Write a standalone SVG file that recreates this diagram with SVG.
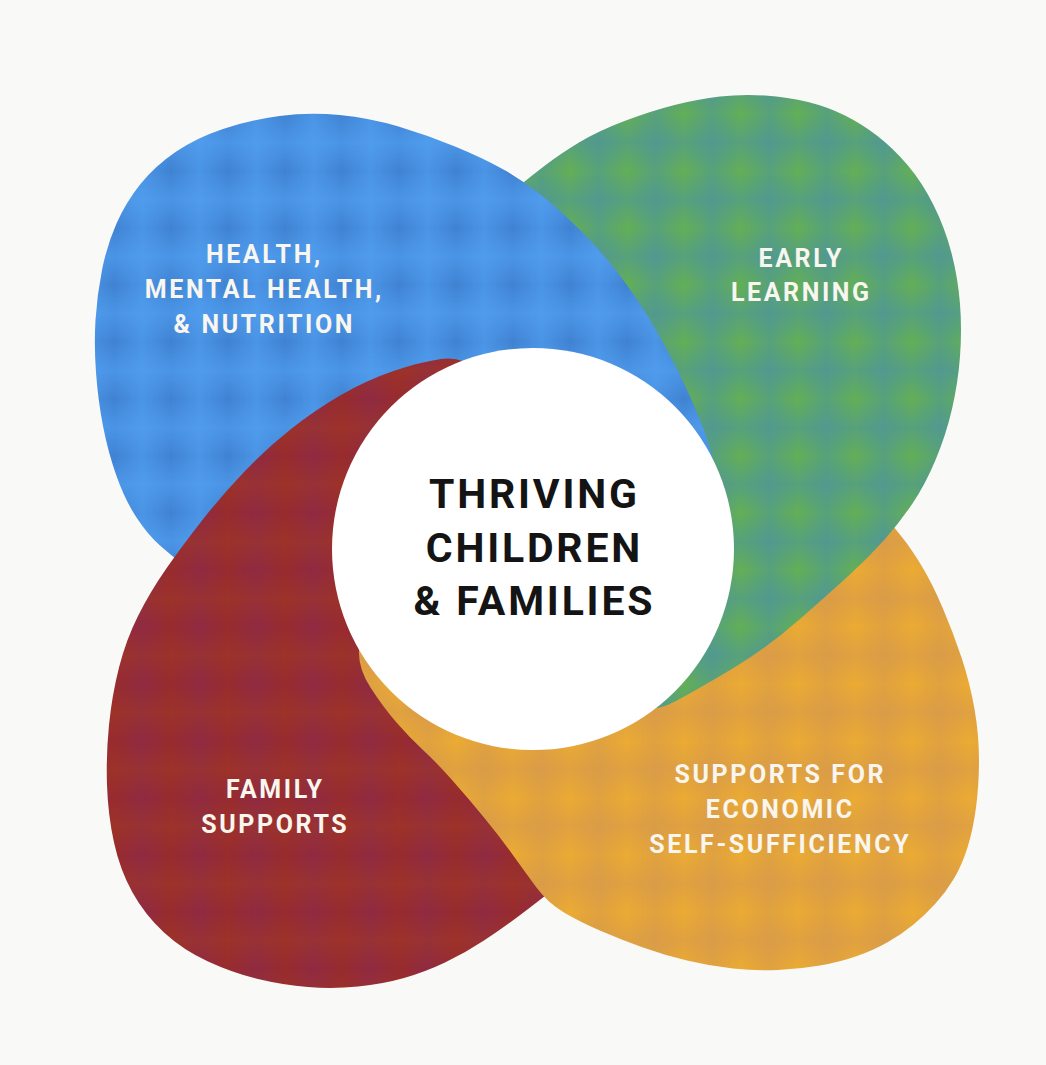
<svg xmlns="http://www.w3.org/2000/svg" xmlns:xlink="http://www.w3.org/1999/xlink" width="1046" height="1065" viewBox="0 0 1046 1065">
<style>
.lbl{font-family:Roboto,"Liberation Sans",sans-serif;font-weight:700;font-size:25px;fill:#f8f6ee;text-anchor:middle;letter-spacing:2.6px}
.ctr{font-family:Roboto,"Liberation Sans",sans-serif;font-weight:700;font-size:41px;fill:#141414;text-anchor:middle;letter-spacing:2.8px}
</style>
<defs>
<linearGradient id="gv" x1="0" y1="0" x2="1" y2="0"><stop offset="0" stop-color="#fff" stop-opacity="0"/><stop offset="0.5" stop-color="#fff" stop-opacity="1"/><stop offset="1" stop-color="#fff" stop-opacity="0"/></linearGradient>
<linearGradient id="gh" x1="0" y1="0" x2="0" y2="1"><stop offset="0" stop-color="#fff" stop-opacity="0"/><stop offset="0.5" stop-color="#fff" stop-opacity="1"/><stop offset="1" stop-color="#fff" stop-opacity="0"/></linearGradient>
<mask id="mv" maskContentUnits="objectBoundingBox"><rect width="1" height="1" fill="url(#gv)"/></mask>
<mask id="mh" maskContentUnits="objectBoundingBox"><rect width="1" height="1" fill="url(#gh)"/></mask>
<pattern id="pBlue" width="57" height="57" patternUnits="userSpaceOnUse">
<rect width="57" height="57" fill="#3f82d2"/>
<rect width="57" height="57" fill="#52a0f2" opacity="0.6" mask="url(#mv)"/>
<rect width="57" height="57" fill="#52a0f2" opacity="0.6" mask="url(#mh)"/>
</pattern>
<pattern id="pGreen" width="57" height="57" patternUnits="userSpaceOnUse">
<rect width="57" height="57" fill="#62af55"/>
<rect width="57" height="57" fill="#4a8fa8" opacity="0.45" mask="url(#mv)"/>
<rect width="57" height="57" fill="#4a8fa8" opacity="0.45" mask="url(#mh)"/>
</pattern>
<pattern id="pOrange" width="57" height="57" patternUnits="userSpaceOnUse">
<rect width="57" height="57" fill="#ebab32"/>
<rect width="57" height="57" fill="#d4974e" opacity="0.5" mask="url(#mv)"/>
<rect width="57" height="57" fill="#d4974e" opacity="0.5" mask="url(#mh)"/>
</pattern>
<pattern id="pRed" width="57" height="57" patternUnits="userSpaceOnUse">
<rect width="57" height="57" fill="#972a2d"/>
<rect width="57" height="57" fill="#862856" opacity="0.5" mask="url(#mv)"/>
<rect width="57" height="57" fill="#a8401f" opacity="0.35" mask="url(#mh)"/>
</pattern>
<path id="shapeBlue" d="M715,470 Q712,450 701,422.5 Q690,395 677.5,370 Q665,345 650,320 Q635,295 617.5,272.5 Q600,250 580,230 Q560,210 541,195 Q522,180 502.5,169 Q483,158 455,146.5 Q427,135 398.5,126.5 Q370,118 339.5,115 Q309,112 279.5,116 Q250,120 223,129 Q196,138 175.5,152 Q155,166 140.5,184 Q126,202 116.5,223.5 Q107,245 102,270 Q97,295 95.5,320 Q94,345 96,372.5 Q98,400 103,426 Q108,452 116.5,476 Q125,500 136.5,517.5 Q148,535 160,545.5 Q172,556 188.5,569 Q205,582 247.5,553.5 Q290,525 345,502.5 Q400,480 460,471 Q520,462 580,476 Q640,490 670,502.5 Q700,515 709,502.5 Q718,490 715,470 Z"/>
<clipPath id="clipBG"><rect x="505" y="0" width="541" height="520"/></clipPath>
</defs>
<rect width="1046" height="1065" fill="#f9f9f8"/>
<g id="petal-blue">
<use href="#shapeBlue" fill="url(#pBlue)"/>
</g>
<g id="petal-red">
<path fill="url(#pRed)" d="M472.5,417.5 Q495,385 478.5,370.5 Q462,356 441,359 Q420,362 393.5,371 Q367,380 341,395 Q315,410 291,429 Q267,448 244.5,471.5 Q222,495 202,520.5 Q182,546 166,569 Q150,592 138,616 Q126,640 119,667.5 Q112,695 109,725 Q106,755 107,785 Q108,815 114,842.5 Q120,870 132.5,892.5 Q145,915 164,932.5 Q183,950 208,961.5 Q233,973 258,979 Q283,985 308,987 Q333,989 358,986.5 Q383,984 404,978 Q425,972 445,962.5 Q465,953 484,940.5 Q503,928 521.5,914 Q540,900 552.5,890 Q565,880 552.5,850 Q540,820 510,790 Q480,760 455,720 Q430,680 425,620 Q420,560 435,505 Q450,450 472.5,417.5 Z"/>
</g>
<g id="petal-orange">
<path fill="url(#pOrange)" d="M437.5,622.5 Q395,605 377.5,618.5 Q360,632 359,650 Q358,668 370.5,687.5 Q383,707 396.5,722.5 Q410,738 423.5,750.5 Q437,763 452.5,780.5 Q468,798 484,817.5 Q500,837 512.5,854.5 Q525,872 536.5,887.5 Q548,903 564,912.5 Q580,922 601,931 Q622,940 643,947.5 Q664,955 687,960.5 Q710,966 733,968.5 Q756,971 778,970 Q800,969 820,965.5 Q840,962 857,956 Q874,950 888,942 Q902,934 913.5,924.5 Q925,915 935.5,903.5 Q946,892 954,878.5 Q962,865 967.5,847.5 Q973,830 976,807.5 Q979,785 979,760 Q979,735 974.5,709 Q970,683 961.5,657.5 Q953,632 942.5,607.5 Q932,583 922,566.5 Q912,550 903.5,539 Q895,528 887.5,520 Q880,512 865,521 Q850,530 815,560 Q780,590 740,615 Q700,640 650,650 Q600,660 540,650 Q480,640 437.5,622.5 Z"/>
</g>
<g id="petal-green">
<path fill="url(#pGreen)" d="M631,689 Q612,698 632,706 Q652,714 676,701 Q700,688 733.5,668 Q767,648 800,619 Q833,590 851.5,573 Q870,556 885,539 Q900,522 912.5,503.5 Q925,485 935.5,460 Q946,435 952,409 Q958,383 960,356.5 Q962,330 960,304 Q958,278 951.5,253 Q945,228 933.5,205 Q922,182 907.5,165 Q893,148 877.5,136 Q862,124 845,115.5 Q828,107 808,102 Q788,97 765,95.5 Q742,94 720,96.5 Q698,99 674.5,105 Q651,111 624.5,121 Q598,131 579,142.5 Q560,154 545,165.5 Q530,177 521,184.5 Q512,192 536,213.5 Q560,235 590,277.5 Q620,320 642.5,375 Q665,430 672.5,495 Q680,560 665,620 Q650,680 631,689 Z"/>
</g>
<g id="petal-blue-overlap">
<use href="#shapeBlue" fill="url(#pBlue)" clip-path="url(#clipBG)"/>
</g>
<g id="connectors"/>
<g id="center">
<circle cx="533" cy="549" r="201" fill="#ffffff"/>
<text class="ctr" x="534.4" y="508">THRIVING</text>
<text class="ctr" x="534.4" y="562">CHILDREN</text>
<text class="ctr" x="534.4" y="615">&amp; FAMILIES</text>
</g>
<g id="label-blue">
<text class="lbl" x="264.3" y="263">HEALTH,</text>
<text class="lbl" x="264.3" y="298">MENTAL HEALTH,</text>
<text class="lbl" x="264.3" y="333">&amp; NUTRITION</text>
</g>
<g id="label-green">
<text class="lbl" x="801.3" y="267">EARLY</text>
<text class="lbl" x="801.3" y="301">LEARNING</text>
</g>
<g id="label-red">
<text class="lbl" x="275.3" y="798">FAMILY</text>
<text class="lbl" x="275.3" y="833">SUPPORTS</text>
</g>
<g id="label-orange">
<text class="lbl" x="780.3" y="783">SUPPORTS FOR</text>
<text class="lbl" x="780.3" y="818">ECONOMIC</text>
<text class="lbl" x="780.3" y="853">SELF-SUFFICIENCY</text>
</g>
</svg>
